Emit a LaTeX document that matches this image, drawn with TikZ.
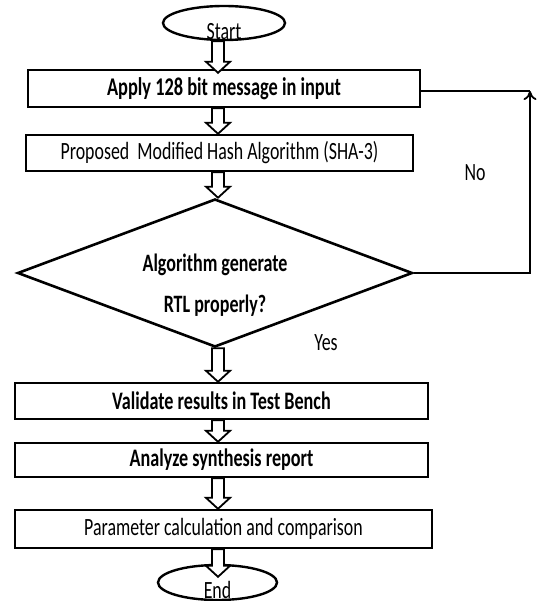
\documentclass[tikz,border=0pt]{standalone}
\usepackage{fontspec}
\setmainfont{Carlito}[FakeStretch=0.72]
\usetikzlibrary{shapes.geometric,arrows.meta,calc}
\tikzset{stepbox/.style={draw,line width=2.4pt,inner sep=0pt,font=\fontsize{24.8}{30}\selectfont}}
\tikzset{term/.style={draw,ellipse,line width=2.4pt,inner sep=0pt,label distance=0pt}}
\tikzset{decision/.style={draw,diamond,aspect=2.67,line width=2.6pt,inner sep=0pt}}
\tikzset{answer/.style={inner sep=1pt,font=\fontsize{24.8}{30}\selectfont}}
\tikzset{loop/.style={line width=2pt,-{To[length=9pt,width=13pt,line width=1.8pt]}}}

%% hollow block arrow down the middle column
\newcommand{\blockarrow}[2]{%
  \draw[line width=1.8pt,fill=white,line join=miter]
    let \p1=#1, \p2=#2, \p3=(col) in
    (\x3-6pt,\y1) -- (\x3+6pt,\y1) -- (\x3+6pt,\y2+11pt) -- (\x3+12pt,\y2+11pt)
    -- (\x3,\y2) -- (\x3-12pt,\y2+11pt) -- (\x3-6pt,\y2+11pt) -- cycle;}

\begin{document}
\begin{tikzpicture}[x=1pt,y=-1pt]
	\useasboundingbox (0,0) rectangle (537,601);
	\coordinate (col) at (218,0);

	%% terminals
	\node[term,minimum width=122pt,minimum height=34pt,
		label={[inner sep=0pt,yshift=-9pt,font=\fontsize{24.8}{30}\selectfont]center:Start}] (start) at (224,23) {};
	\node[term,minimum width=119pt,minimum height=35pt,
		label={[inner sep=0pt,yshift=-7pt,font=\fontsize{24.8}{30}\selectfont]center:End}] (end) at (217.5,582.5) {};

	%% process boxes
	\node[stepbox,minimum width=392pt,minimum height=37pt,font=\fontsize{25.5}{30}\selectfont\bfseries] (apply) at (224,88.5) {Apply 128 bit message in input};
	\node[stepbox,minimum width=387pt,minimum height=36pt] (sha) at (219.5,153) {Proposed\ \ Modified Hash Algorithm (SHA-3)};
	\node[decision,minimum width=395pt,minimum height=148pt,
		label={[yshift=-12pt,align=center,font=\fontsize{25}{41}\selectfont\bfseries]center:{Algorithm generate\\RTL properly?}}] (rtl) at (215,273) {};
	\node[stepbox,minimum width=413pt,minimum height=36pt,font=\fontsize{25.2}{30}\selectfont\bfseries] (valid) at (221.5,401) {Validate results in Test Bench};
	\node[stepbox,minimum width=413pt,minimum height=34pt,font=\fontsize{25.2}{30}\selectfont\bfseries] (synth) at (221.5,460) {Analyze synthesis report};
	\node[stepbox,minimum width=417pt,minimum height=38pt] (param) at (223.5,529) {Parameter calculation and comparison};

	%% branch labels
	\node[answer] (no) at (475,173) {No};
	\node[answer] (yes) at (326,343) {Yes};

	%% flow
	\blockarrow{(start.south)}{([yshift=-4pt]apply.north)}
	\blockarrow{(apply.south)}{(sha.north)}
	\blockarrow{(sha.south)}{(rtl.north)}
	\blockarrow{(rtl.south)}{(valid.north)}
	\blockarrow{(valid.south)}{(synth.north)}
	\blockarrow{(synth.south)}{(param.north)}
	\blockarrow{(param.south)}{([yshift=-13pt]end.north)}

	%% "No" goes back to the input step
	\coordinate (back) at (530,91);
	\draw[loop] (rtl.east) -| (back);
	\draw[line width=2pt] (back) -- (back -| apply.east);

\end{tikzpicture}
\end{document}
